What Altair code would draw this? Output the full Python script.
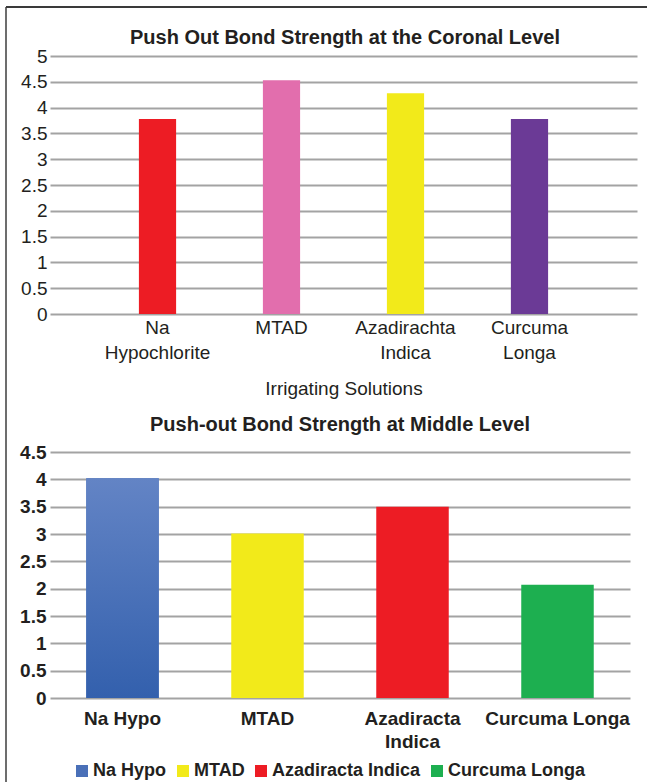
import altair as alt
import pandas as pd

# ---- data ----
top_categories = ["Na Hypochlorite", "MTAD", "Azadirachta Indica", "Curcuma Longa"]
top_values = [3.78, 4.53, 4.28, 3.78]
top_colors = ["#ED1C24", "#E26EAD", "#F2EA1A", "#6B3A96"]
top_ticks = [0, 0.5, 1, 1.5, 2, 2.5, 3, 3.5, 4, 4.5, 5]
top_title = "Push Out Bond Strength  at the Coronal Level"
top_axis_title = "Irrigating Solutions"

mid_categories = ["Na Hypo", "MTAD", "Azadiracta Indica", "Curcuma Longa"]
mid_values = [4.02, 3.01, 3.50, 2.07]
mid_colors = ["#4A70B8", "#F2EA1A", "#ED1C24", "#1DAF50"]
mid_ticks = [0, 0.5, 1, 1.5, 2, 2.5, 3, 3.5, 4, 4.5]
mid_title = "Push-out Bond Strength at Middle Level"

FONT = "Liberation Sans"
TEXT = "#231F20"
GRID = "#A3A3A3"

top_df = pd.DataFrame({"solution": top_categories, "strength": top_values})
mid_df = pd.DataFrame({"group": mid_categories, "value": mid_values})
one_row = alt.Data(values=[{"k": 0}])

# ---- top chart ----
top_x = alt.X(
    "solution:N", sort=top_categories,
    scale=alt.Scale(paddingInner=0.7, paddingOuter=0.717),
    axis=alt.Axis(title=top_axis_title, labelAngle=0,
                  labelExpr="split(datum.label, ' ')",
                  labelFont=FONT, labelFontSize=19, labelColor=TEXT,
                  labelLineHeight=25, labelPadding=4, ticks=False, tickSize=0,
                  domain=False, titleFont=FONT, titleFontSize=19,
                  titleFontWeight="normal", titleColor=TEXT, titlePadding=17),
)
top_y = alt.Y(
    "strength:Q", scale=alt.Scale(domain=[0, 5], nice=False),
    axis=alt.Axis(title=None, values=top_ticks, format="~g", grid=True,
                  gridColor=GRID, gridWidth=2, domain=False, ticks=False,
                  tickSize=0, labelPadding=3, labelFont=FONT, labelFontSize=19,
                  labelColor=TEXT),
)
top_bars = alt.Chart(top_df).mark_bar().encode(
    x=top_x, y=top_y,
    color=alt.Color("solution:N", sort=top_categories,
                    scale=alt.Scale(domain=top_categories, range=top_colors),
                    legend=None),
)

left_line = alt.Chart(one_row).mark_rule(color="#6D6D6D", strokeWidth=2).encode(
    x=alt.value(-44), y=alt.value(-49), y2=alt.value(726))
top_line = alt.Chart(one_row).mark_rule(color="#3A3A3A", strokeWidth=2).encode(
    x=alt.value(-44), x2=alt.value(597), y=alt.value(-49))
top_title_mark = alt.Chart(one_row).mark_text(
    font=FONT, fontSize=20, fontWeight="bold", color=TEXT,
    align="center", baseline="middle",
).encode(x=alt.value(295), y=alt.value(-18), text=alt.value(top_title))

top = alt.layer(top_bars, left_line, top_line, top_title_mark).properties(
    width=587, height=258,
)

# ---- middle chart ----
mid_x = alt.X(
    "group:N", sort=mid_categories,
    scale=alt.Scale(paddingInner=0.5, paddingOuter=0.25),
    axis=alt.Axis(title=None, labelAngle=0,
                  labelExpr="datum.label == 'Azadiracta Indica' ? ['Azadiracta', 'Indica'] : datum.label",
                  labelFont=FONT, labelFontSize=19, labelFontWeight="bold",
                  labelColor=TEXT, labelLineHeight=23, labelPadding=11,
                  ticks=False, tickSize=0, domain=False),
)
mid_y = alt.Y(
    "value:Q", scale=alt.Scale(domain=[0, 4.5], nice=False),
    axis=alt.Axis(title=None, values=mid_ticks, format="~g", grid=True,
                  gridColor=GRID, gridWidth=2, domain=False, ticks=False,
                  tickSize=0, labelPadding=4, labelFont=FONT, labelFontSize=19,
                  labelFontWeight="bold", labelColor=TEXT),
)
mid_bars = alt.Chart(mid_df).mark_bar().encode(
    x=mid_x, y=mid_y,
    color=alt.Color("group:N", sort=mid_categories,
                    scale=alt.Scale(domain=mid_categories, range=mid_colors),
                    legend=alt.Legend(title=None, orient="none", legendX=23,
                                      legendY=310, direction="horizontal",
                                      symbolType="square", symbolSize=144,
                                      symbolStrokeWidth=0, symbolOpacity=1,
                                      labelFont=FONT, labelFontSize=18,
                                      labelFontWeight="bold", labelColor=TEXT,
                                      labelOffset=2, columnPadding=7,
                                      padding=0)),
)
blue_gradient = alt.Gradient(
    gradient="linear",
    stops=[alt.GradientStop(color="#6384C5", offset=0),
           alt.GradientStop(color="#3360AD", offset=1)],
    x1=0, x2=0, y1=0, y2=1,
)
mid_grad = alt.Chart(mid_df).transform_filter(
    alt.datum.group == "Na Hypo"
).mark_bar(color=blue_gradient).encode(x=mid_x, y=mid_y)
mid_title_mark = alt.Chart(one_row).mark_text(
    font=FONT, fontSize=20, fontWeight="bold", color=TEXT,
    align="center", baseline="middle",
).encode(x=alt.value(290), y=alt.value(-27), text=alt.value(mid_title))

mid = alt.layer(mid_bars, mid_grad, mid_title_mark).properties(
    width=580, height=246,
)

chart = alt.vconcat(top, mid, spacing=138, bounds="flush").resolve_scale(
    color="independent", x="independent", y="independent"
).configure(
    font=FONT,
    padding={"left": 5, "top": 6, "right": 0, "bottom": 0},
    background="white",
).configure_view(stroke=None)

chart.save("out.html", embed_options={"renderer": "svg", "actions": False})
